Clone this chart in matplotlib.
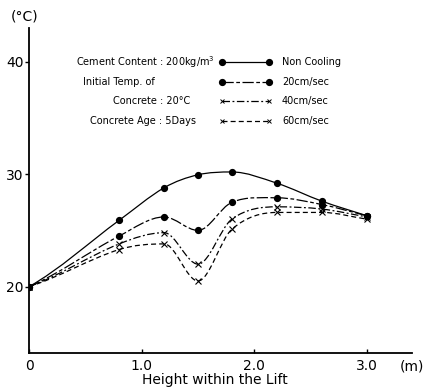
import numpy as np
import matplotlib.pyplot as plt
from matplotlib.path import Path
from matplotlib.patches import PathPatch

# measuring heights (m) and temperatures (deg C)
height = [0.0, 0.8, 1.2, 1.5, 1.8, 2.2, 2.6, 3.0]
non_cooling = [20.0, 25.9, 28.8, 29.95, 30.2, 29.2, 27.6, 26.3]
cool_20 = [20.0, 24.5, 26.2, 25.0, 27.5, 27.9, 27.3, 26.3]
cool_40 = [20.0, 23.8, 24.8, 22.0, 26.0, 27.1, 26.9, 26.2]
cool_60 = [20.0, 23.3, 23.8, 20.5, 25.1, 26.6, 26.6, 26.0]

series_labels = ['Non Cooling', '20cm/sec', '40cm/sec', '60cm/sec']
cond_lines = ['Cement Content : 200kg/m$^3$', 'Initial Temp. of',
              'Concrete : 20\u00b0C', 'Concrete Age : 5Days']


def smooth_path(x, y):
    # piecewise cubic through the points, flat at local extremes
    x = np.asarray(x, float)
    y = np.asarray(y, float)
    h = np.diff(x)
    d = np.diff(y) / h
    m = np.zeros_like(y)
    for i in range(1, len(x) - 1):
        if d[i - 1] * d[i] > 0:
            m[i] = (y[i + 1] - y[i - 1]) / (x[i + 1] - x[i - 1])
    m[0] = d[0] * 0.75
    m[-1] = d[-1]
    verts = [(x[0], y[0])]
    codes = [Path.MOVETO]
    for i in range(len(x) - 1):
        verts += [(x[i] + h[i] / 3, y[i] + m[i] * h[i] / 3),
                  (x[i + 1] - h[i] / 3, y[i + 1] - m[i + 1] * h[i] / 3),
                  (x[i + 1], y[i + 1])]
        codes += [Path.CURVE4] * 3
    return Path(verts, codes)


fig = plt.figure(figsize=(4.29, 3.9), dpi=100)
ax = fig.add_axes([0.0676, 0.095, 0.893, 0.833])
ax.set_xlim(0, 3.4)
ax.set_ylim(14.1, 43.0)

styles = [
    dict(ls='-', marker='o'),
    dict(ls=(0, (9, 2, 3, 2)), marker='o'),
    dict(ls=(0, (6, 2, 1.5, 2)), marker='x'),
    dict(ls=(0, (4, 2.5)), marker='x'),
]
data = [non_cooling, cool_20, cool_40, cool_60]

for vals, st in zip(data, styles):
    patch = PathPatch(smooth_path(height, vals), fill=False, ec='black',
                      lw=0.9, ls=st['ls'])
    ax.add_patch(patch)
    if st['marker'] == 'o':
        ax.plot(height, vals, 'o', color='black', ms=4.2, ls='none')
    else:
        ax.plot(height, vals, 'x', color='black', ms=4.5, mew=0.8, ls='none')

# legend drawn by hand
leg_y = [40.0, 38.2, 36.5, 34.75]
for yy, st, lab in zip(leg_y, styles, series_labels):
    mk = st['marker']
    ax.plot([1.71, 2.13], [yy, yy], color='black', lw=0.9, ls=st['ls'])
    if mk == 'o':
        ax.plot([1.71, 2.13], [yy, yy], 'o', color='black', ms=4.2)
    else:
        ax.plot([1.71, 2.13], [yy, yy], 'x', color='black', ms=3.5, mew=0.7)
    ax.text(2.245, yy, lab, fontsize=7, va='center', ha='left')

cond_x = [0.42, 0.48, 0.745, 0.54]
for xx, yy, txt in zip(cond_x, leg_y, cond_lines):
    ax.text(xx, yy, txt, fontsize=7, va='center', ha='left')

for s in ['top', 'right']:
    ax.spines[s].set_visible(False)
for s in ['left', 'bottom']:
    ax.spines[s].set_linewidth(1.3)

ax.set_yticks([20, 30, 40])
ax.set_yticklabels(['20', '30', '40'], fontsize=10)
ax.tick_params(axis='y', direction='out', length=3, width=1, pad=1)
ax.set_xticks([0, 1.0, 2.0, 3.0])
ax.set_xticklabels(['0', '1.0', '2.0', '3.0'], fontsize=10)
ax.tick_params(axis='x', direction='in', length=3, width=1, pad=4)

fig.text(25 / 429, 1 - 16 / 390, '(\u00b0C)', fontsize=10, ha='center', va='center')
fig.text(412 / 429, 1 - 367 / 390, '(m)', fontsize=10, ha='center', va='center')
fig.text(215 / 429, 1 - 380 / 390, 'Height within the Lift', fontsize=10,
         ha='center', va='center')

fig.savefig('out.png', dpi=100)
